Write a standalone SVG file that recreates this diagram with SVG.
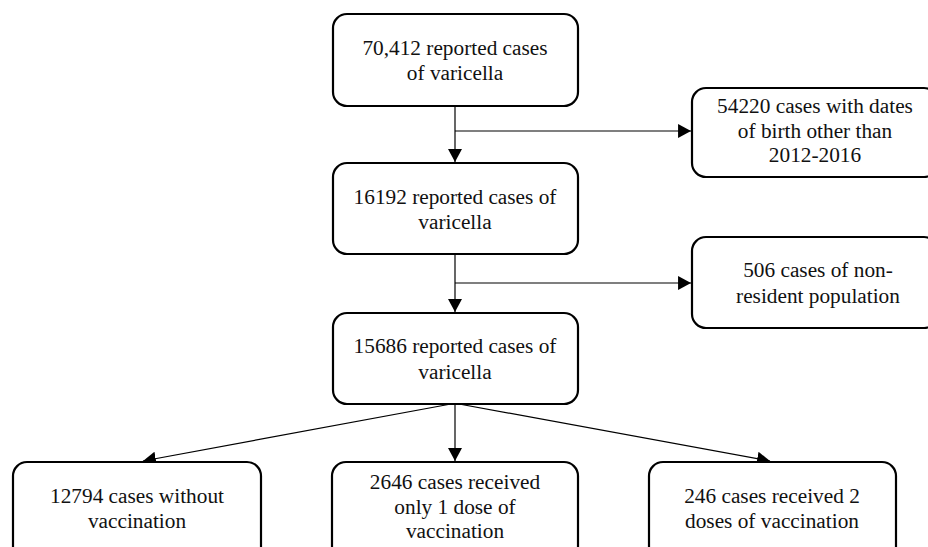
<svg xmlns="http://www.w3.org/2000/svg" width="928" height="547" viewBox="0 0 928 547">
<style>
.box{fill:#fff;stroke:#000;stroke-width:2.2}
.t{font-family:'Liberation Serif','DejaVu Serif',serif;font-size:21.3px;fill:#111;text-anchor:middle}
.c{fill:none;stroke:#000;stroke-width:1.2}
</style>
<defs>
<marker id="ah" markerUnits="userSpaceOnUse" markerWidth="14" markerHeight="14" refX="12" refY="6.5" orient="auto" viewBox="0 0 13 13">
<path d="M0,0 L12,6.5 L0,13 z" fill="#000"/>
</marker>
</defs>
<rect width="928" height="547" fill="#fff"/>
<g id="connectors">
<path class="c" d="M455,106 V162" marker-end="url(#ah)"/>
<path class="c" d="M455,131 H691" marker-end="url(#ah)"/>
<path class="c" d="M455,254 V312" marker-end="url(#ah)"/>
<path class="c" d="M455,283 H691" marker-end="url(#ah)"/>
<path class="c" d="M455,404 V461" marker-end="url(#ah)"/>
<path class="c" d="M451,404 L143,461" marker-end="url(#ah)"/>
<path class="c" d="M459,404 L770,461" marker-end="url(#ah)"/>
</g>
<g id="n1">
<rect class="box" x="333" y="14" width="245" height="92" rx="14"/>
<text class="t" x="455" y="55">70,412 reported cases</text>
<text class="t" x="455" y="80">of varicella</text>
</g>
<g id="n2">
<rect class="box" x="692" y="88" width="246" height="89" rx="14"/>
<text class="t" x="815" y="113">54220 cases with dates</text>
<text class="t" x="815" y="138">of birth other than</text>
<text class="t" x="815" y="162">2012-2016</text>
</g>
<g id="n3">
<rect class="box" x="333" y="163" width="245" height="91" rx="14"/>
<text class="t" x="455" y="204">16192 reported cases of</text>
<text class="t" x="455" y="229">varicella</text>
</g>
<g id="n4">
<rect class="box" x="692" y="237" width="246" height="91" rx="14"/>
<text class="t" x="818" y="277">506 cases of non-</text>
<text class="t" x="818" y="303">resident population</text>
</g>
<g id="n5">
<rect class="box" x="333" y="313" width="245" height="91" rx="14"/>
<text class="t" x="455" y="353">15686 reported cases of</text>
<text class="t" x="455" y="379">varicella</text>
</g>
<g id="n6">
<rect class="box" x="13" y="462" width="248" height="100" rx="14"/>
<text class="t" x="137" y="503">12794 cases without</text>
<text class="t" x="137" y="528">vaccination</text>
</g>
<g id="n7">
<rect class="box" x="332" y="462" width="246" height="100" rx="14"/>
<text class="t" x="455" y="489">2646 cases received</text>
<text class="t" x="455" y="514">only 1 dose of</text>
<text class="t" x="455" y="538">vaccination</text>
</g>
<g id="n8">
<rect class="box" x="649" y="462" width="247" height="100" rx="14"/>
<text class="t" x="772" y="503">246 cases received 2</text>
<text class="t" x="772" y="528">doses of vaccination</text>
</g>
</svg>
